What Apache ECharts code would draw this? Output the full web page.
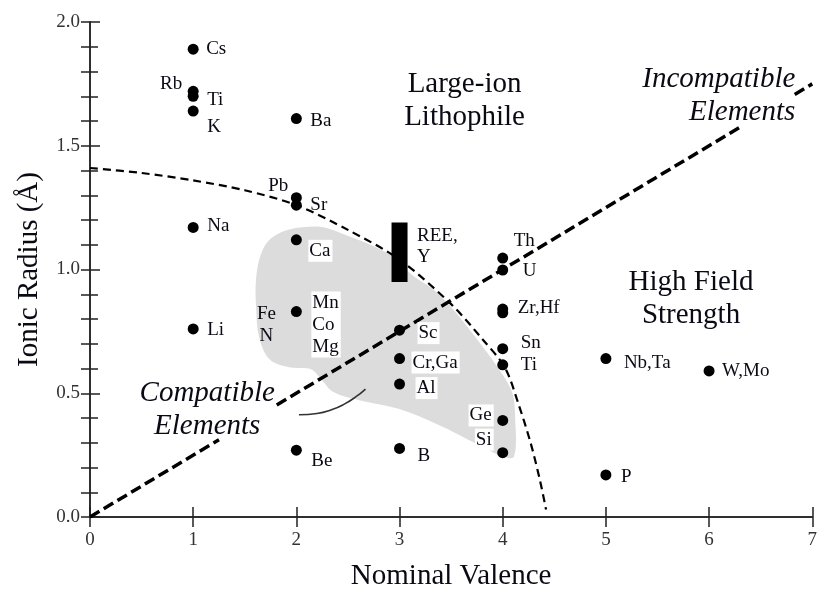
<!DOCTYPE html>
<html><head><meta charset="utf-8">
<script src="https://cdn.jsdelivr.net/npm/echarts@6/dist/echarts.min.js"></script>
<style>html,body{margin:0;padding:0;background:#fff}#c{width:820px;height:596px}</style>
</head><body><div id="c"></div>
<script>
// ---- data ----
const elementNames   = ['Cs','Rb','Ti','K','Na','Li','Ba','Pb','Sr','Ca','Mn\nCo\nMg','Be','Sc','Cr,Ga','Al','B','Th','U','Zr,Hf','','Sn','Ti','Ge','Si','Nb,Ta','W,Mo','P'];
const elementValence = [1,1,1,1,1,1,2,2,2,2,2,2,3,3,3,3,4,4,4,4,4,4,4,4,5,6,5];
const elementRadius  = [1.89,1.72,1.70,1.64,1.17,0.76,1.61,1.29,1.26,1.12,0.83,0.27,0.755,0.64,0.537,0.277,1.046,0.998,0.84,0.825,0.68,0.615,0.39,0.26,0.64,0.59,0.17];
const reeValence = 3;
const reeRadiusRange = [0.95, 1.19];
const reeLabel = 'REE,\nY';
const feLabel = 'Fe\nN';
const feLabelPos = [1.71, 0.775];
// dashed field boundary curve
const boundaryX = [0, 0.5, 1.0, 1.5, 2.0, 2.5, 3.0, 3.5, 3.8, 4.02, 4.15, 4.27, 4.36, 4.42];
const boundaryY = [1.41, 1.39, 1.36, 1.32, 1.26, 1.16, 1.04, 0.86, 0.72, 0.605, 0.46, 0.30, 0.15, 0.03];
// dashed compatible / incompatible divide (broken where text sits)
const divideSegX = [[0, 1.25], [1.81, 6.29], [6.83, 7]];
const divideSegY = [[0, 0.3125], [0.4525, 1.5725], [1.7075, 1.75]];
// grey shaded field
const shadeX = [2.19,1.93,1.755,1.66,1.61,1.61,1.64,1.74,1.93,2.14,2.24,2.36,2.60,2.99,3.375,3.76,4.0,4.11,4.12,4.09,3.95,3.76,3.52,3.33,3.11,2.96,2.75,2.51,2.31];
const shadeY = [1.174,1.162,1.126,1.066,0.966,0.846,0.725,0.637,0.605,0.597,0.557,0.505,0.473,0.437,0.373,0.293,0.244,0.244,0.405,0.505,0.605,0.713,0.838,0.918,0.982,1.046,1.094,1.134,1.166];
// small arc
const arcX = [2.025, 2.20, 2.34, 2.46, 2.575, 2.67];
const arcY = [0.413, 0.418, 0.433, 0.455, 0.485, 0.517];
// region labels
const regionNames = ['Large-ion\nLithophile', 'High Field\nStrength', 'Incompatible\nElements', 'Compatible\nElements'];
const regionX = [3.63, 5.825, 6.836, 1.136];
const regionY = [1.683, 0.882, 1.701, 0.433];
const xTicks = [0,1,2,3,4,5,6,7];
const yTickLabels = ['0.0','0.5','1.0','1.5','2.0'];

// ---- label layout (style) ----
// [dx, dy, align, whiteBox]
const labelLayout = [
  [13,0,'left',0],[-11,-7,'right',0],[14,4,'left',0],[14,16,'left',0],[14,-1,'left',0],[14,1,'left',0],
  [14,2,'left',0],[-8,-12,'right',0],[14,0,'left',0],[12,11,'left',1],[15,13,'left',1],[15,11,'left',0],
  [18,3,'left',1],[12,4,'left',1],[16,4,'left',1],[18,8,'left',0],[11,-17,'left',0],[20,1,'left',0],
  [15,-1,'left',0],[0,0,'left',0],[18,-6,'left',0],[18,0,'left',0],[-9,-5,'right',1],[-9,-13,'right',1],
  [18,4,'left',0],[13,0,'left',0],[15,2,'left',0]
];
const regionAlign = ['center','center','right','center'];
const regionItalic = [false,false,true,true];

const FONT = 'Liberation Serif';
const TXT = '#0a0a14';
const chart = echarts.init(document.getElementById('c'), null, {renderer:'canvas'});

const pointData = elementNames.map((n,i) => {
  const L = labelLayout[i];
  return {
    name: n,
    value: [elementValence[i], elementRadius[i]],
    label: {
      show: n !== '', formatter: '{b}', position: 'inside', offset: [L[0], L[1]],
      align: L[2], verticalAlign: 'middle', color: TXT, fontFamily: FONT, fontSize: 19, lineHeight: 22,
      backgroundColor: L[3] ? '#fff' : 'transparent', padding: L[3] ? [0,2,0,1] : 0
    }
  };
});

const regionData = regionNames.map((n,i) => ({
  name: n, value: [regionX[i], regionY[i]],
  label: {show:true, formatter:'{b}', position:'inside', align: regionAlign[i], verticalAlign:'middle',
    fontFamily: FONT, fontSize: 29, lineHeight: 33, color: TXT, fontStyle: regionItalic[i] ? 'italic' : 'normal'}
}));

const series = [];
series.push({
  type: 'custom', z: 1, silent: true,
  data: [0],
  renderItem: (params, api) => {
    const pts = shadeX.map((x,i) => api.coord([x, shadeY[i]]));
    return {type:'polygon', shape:{points: pts, smooth: 0.35}, style:{fill:'#dcdcdc'}};
  }
});
series.push({
  type: 'line', z: 2, silent: true, smooth: true, symbol: 'none',
  data: arcX.map((x,i) => [x, arcY[i]]),
  lineStyle: {color:'#333', width: 1.6}
});
series.push({
  type: 'line', z: 3, silent: true, smooth: 0.3, symbol: 'none',
  data: boundaryX.map((x,i) => [x, boundaryY[i]]),
  lineStyle: {color:'#000', width: 2.2, type: [8,5]}
});
divideSegX.forEach((seg, k) => {
  series.push({
    type: 'line', z: 3, silent: true, symbol: 'none',
    data: seg.map((x,i) => [x, divideSegY[k][i]]),
    lineStyle: {color:'#000', width: 3.5, type: [11,5]}
  });
});
series.push({
  type: 'custom', z: 4, silent: true,
  data: [[reeValence, reeRadiusRange[0], reeRadiusRange[1]]],
  renderItem: (params, api) => {
    const a = api.coord([api.value(0), api.value(1)]);
    const b = api.coord([api.value(0), api.value(2)]);
    return {type:'rect', shape:{x: a[0]-8, y: b[1], width: 16, height: a[1]-b[1]}, style:{fill:'#000'}};
  }
});
series.push({
  type: 'scatter', z: 5, silent: true, symbol: 'circle', symbolSize: 11,
  itemStyle: {color:'#000', opacity: 1},
  data: pointData
});
series.push({
  type: 'scatter', z: 6, silent: true, symbolSize: 0,
  itemStyle: {opacity: 1},
  data: [
    {name: reeLabel, value: [3.16, 1.094], label:{show:true, formatter:'{b}', position:'inside', align:'left', verticalAlign:'middle', fontFamily:FONT, fontSize:19, lineHeight:21, color:TXT, backgroundColor:'#fff', padding:[0,2,0,1]}},
    {name: feLabel, value: feLabelPos, label:{show:true, formatter:'{b}', position:'inside', align:'center', verticalAlign:'middle', fontFamily:FONT, fontSize:19, lineHeight:22, color:TXT}}
  ].concat(regionData)
});

const axisLine = {show:true, lineStyle:{color:'#222', width:1.5}};
chart.setOption({
  animation: false,
  backgroundColor: '#fff',
  grid: {left: 90, right: 4, top: 22, bottom: 75},
  xAxis: [
    {type:'value', min:0, max:7, interval:1, position:'bottom',
      axisLine, axisTick:{show:true, inside:true, length:10, lineStyle:{color:'#222', width:1.5}},
      splitLine:{show:false},
      axisLabel:{margin:14, color:'#333', fontFamily:FONT, fontSize:19, formatter: v => String(xTicks[Math.round(v)])},
      name:'Nominal Valence', nameLocation:'middle', nameGap:45,
      nameTextStyle:{fontFamily:FONT, fontSize:29, color:TXT}},
    {type:'value', min:0, max:7, interval:1, position:'top',
      axisLine, axisTick:{show:true, inside:true, length:10, lineStyle:{color:'#222', width:1.5}},
      splitLine:{show:false}, axisLabel:{show:false}}
  ],
  yAxis: [
    {type:'value', min:0, max:2, interval:0.5, position:'left',
      axisLine, axisTick:{show:true, inside:true, length:10, lineStyle:{color:'#222', width:1.5}},
      minorTick:{show:true, splitNumber:5, length:8, lineStyle:{color:'#222', width:1.5}},
      splitLine:{show:false}, minorSplitLine:{show:false},
      axisLabel:{margin:10, color:'#333', fontFamily:FONT, fontSize:19, formatter: v => yTickLabels[Math.round(v*2)]},
      name:'Ionic Radius (Å)', nameLocation:'middle', nameGap:46, nameRotate:90,
      nameTextStyle:{fontFamily:FONT, fontSize:29, color:TXT}},
    {type:'value', min:0, max:2, interval:0.5, position:'right',
      axisLine, axisTick:{show:true, inside:true, length:9, lineStyle:{color:'#222', width:1.5}},
      minorTick:{show:true, splitNumber:5, length:9, lineStyle:{color:'#222', width:1.5}},
      splitLine:{show:false}, minorSplitLine:{show:false}, axisLabel:{show:false}}
  ],
  series
});
</script></body></html>
